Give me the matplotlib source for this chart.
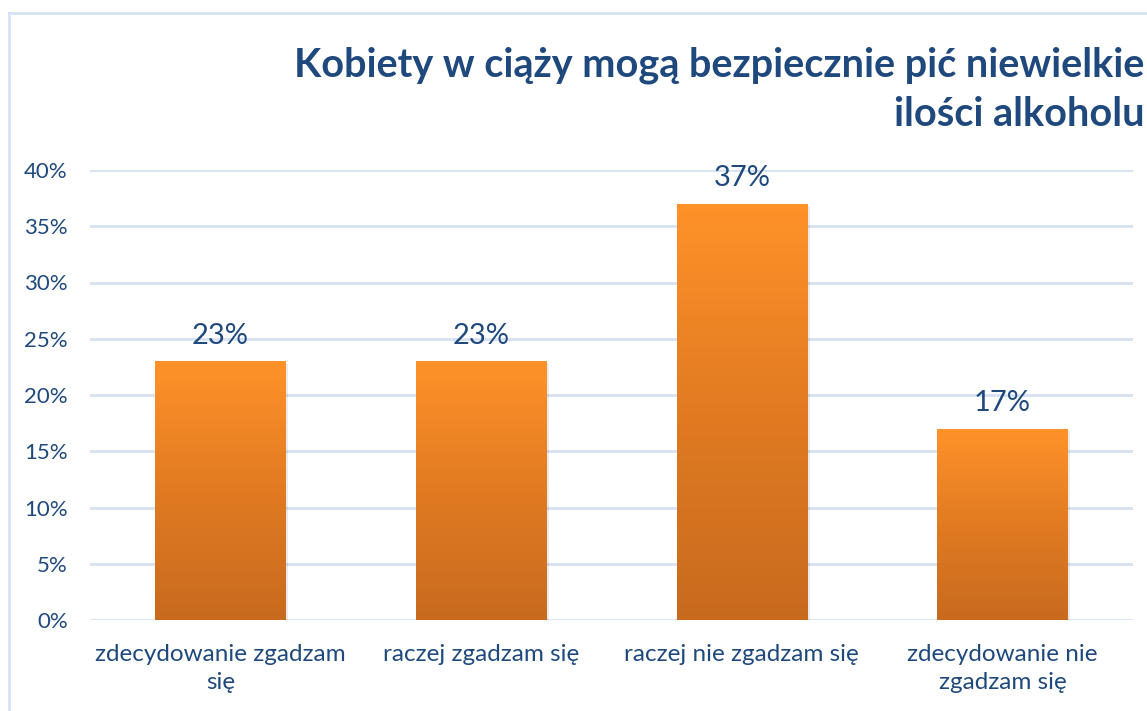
import numpy as np
import matplotlib
matplotlib.use("Agg")
import matplotlib.pyplot as plt
from matplotlib.colors import LinearSegmentedColormap
from matplotlib.patches import Rectangle
from matplotlib.ticker import FuncFormatter

categories = ["zdecydowanie zgadzam\nsię", "raczej zgadzam się",
              "raczej nie zgadzam się", "zdecydowanie nie\nzgadzam się"]
values = [0.23, 0.23, 0.37, 0.17]
value_labels = ["23%", "23%", "37%", "17%"]
yticks = [0, 0.05, 0.10, 0.15, 0.20, 0.25, 0.30, 0.35, 0.40]
title = "Kobiety w ciąży mogą bezpiecznie pić niewielkie\nilości alkoholu"

TEXT = "#1F497D"
GRID = "#D6E2F2"
plt.rcParams['font.family'] = ['Lato', 'DejaVu Sans']

W, H = 1147, 711
fig = plt.figure(figsize=(W / 100, H / 100), dpi=100)
ax = fig.add_axes([90 / W, 1 - 620 / H, (1133 - 90) / W, (620 - 170) / H])

x = np.arange(len(categories))
bars = ax.bar(x, values, width=0.5, color="none", zorder=3)
cmap = LinearSegmentedColormap.from_list("og", ["#C86A1E", "#E17B22", "#FF9229"])
grad = np.linspace(0, 1, 256).reshape(-1, 1)
for b in bars:
    x0, w, h = b.get_x(), b.get_width(), b.get_height()
    sh = Rectangle((x0 + 0.01, -0.002), w, h, facecolor="#000000", alpha=0.08,
                   edgecolor="none", zorder=2)
    ax.add_patch(sh)
    im = ax.imshow(grad, extent=[x0, x0 + w, 0, h], origin="lower", cmap=cmap,
                   aspect="auto", zorder=3, interpolation="bilinear")
    im.set_clip_path(b)

for xi, v, lab in zip(x, values, value_labels):
    ax.text(xi, v + 0.011, lab, ha="center", va="bottom", fontsize=21, color=TEXT)

ax.set_xlim(-0.5, len(categories) - 0.5)
ax.set_ylim(0, 0.40)
ax.set_yticks(yticks)
ax.yaxis.set_major_formatter(FuncFormatter(lambda v, p: f"{v*100:.0f}%"))
ax.set_xticks(x)
ax.set_xticklabels(categories, fontsize=17.5, color=TEXT, linespacing=1.45)
ax.tick_params(axis="y", labelsize=16, labelcolor=TEXT, length=0, pad=16)
ax.tick_params(axis="x", length=0, pad=17)
ax.grid(axis="y", color=GRID, linewidth=2, zorder=0)
ax.set_axisbelow(True)
for s in ax.spines.values():
    s.set_visible(False)

fig.text(1144 / W, 1 - 46 / H, title, ha="right", va="top", fontsize=28.5,
         fontweight="bold", color=TEXT, linespacing=1.42)

# outer border (left and top visible)
fig.add_artist(plt.Line2D([9 / W, 9 / W], [0, 1 - 13 / H], color=GRID, lw=2,
                          transform=fig.transFigure))
fig.add_artist(plt.Line2D([9 / W, 1], [1 - 13 / H, 1 - 13 / H], color=GRID, lw=2,
                          transform=fig.transFigure))

fig.savefig("out.png", dpi=100)
